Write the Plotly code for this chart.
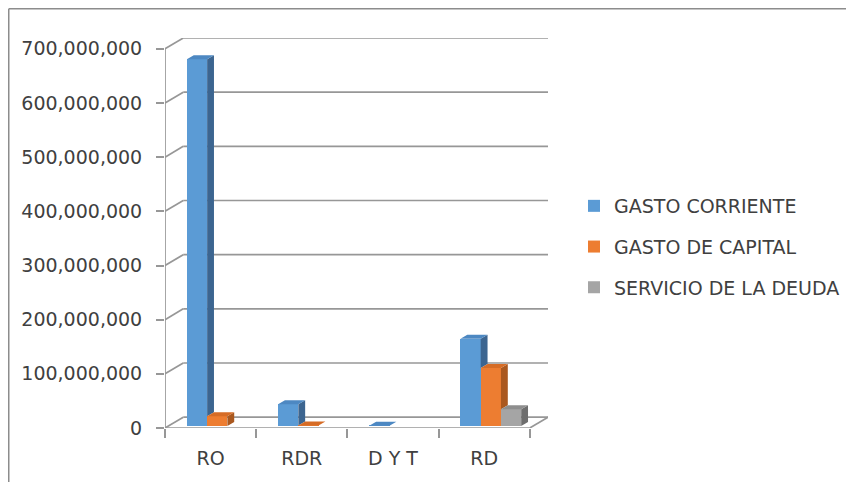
import plotly.graph_objects as go

# datos del grafico
categorias = ['RO', 'RDR', 'D Y T', 'RD']
gasto_corriente = [677000000, 40000000, 500000, 161000000]
gasto_capital = [18000000, 1000000, 0, 107000000]
servicio_deuda = [0, 0, 0, 31000000]
nombres = ['GASTO CORRIENTE', 'GASTO DE CAPITAL', 'SERVICIO DE LA DEUDA']
y_ticks = [0, 100000000, 200000000, 300000000, 400000000, 500000000, 600000000, 700000000]

series = [gasto_corriente, gasto_capital, servicio_deuda]

# colores: frente, arriba, costado
colores = [
    ('#5B9BD5', '#4D88C2', '#3C6590'),
    ('#ED7D31', '#D66C26', '#AA581F'),
    ('#A5A5A5', '#8E8E8E', '#6E6E6E'),
]

# geometria "3D" (profundidad del fondo y de las barras)
DX, DY = 0.2, 20000000          # pared del fondo
FX, FY = 0.03, 3700000          # cara frontal de las barras
SDX, SDY = 0.075, 7500000       # profundidad de cada barra
OFF0, W = -0.29, 0.222          # posicion de la primera barra y ancho
Y_MAX = y_ticks[-1]

fig = go.Figure()
x_idx = list(range(len(categorias)))

# caras frontales como barras
for i, vals in enumerate(series):
    fig.add_trace(go.Bar(
        x=x_idx, y=vals, base=[FY] * len(vals),
        offset=OFF0 + i * W + FX, width=W,
        name=nombres[i], legendgroup=nombres[i],
        marker=dict(color=colores[i][0], line=dict(width=0)),
        hovertemplate='%{y:,.0f}<extra>' + nombres[i] + '</extra>'
    ))

# caras de arriba y costado (poligonos calculados desde los valores)
for i, vals in enumerate(series):
    top_x, top_y, side_x, side_y = [], [], [], []
    for c, v in enumerate(vals):
        if not v:
            continue
        nxt = series[i + 1][c] if i + 1 < len(series) else 0
        x0 = c + OFF0 + i * W + FX
        x1 = x0 + W
        t = FY + v
        if nxt > v:
            top_x += [x0, x0 + SDX, x1, x1, x0, None]
            top_y += [t, t + SDY, t + SDY, t, t, None]
        else:
            top_x += [x0, x0 + SDX, x1 + SDX, x1, x0, None]
            top_y += [t, t + SDY, t + SDY, t, t, None]
            low = FY + nxt
            side_x += [x1, x1 + SDX, x1 + SDX, x1, x1, None]
            side_y += [low, low + SDY, t + SDY, t, low, None]
    for xs, ys, col in ((side_x, side_y, colores[i][2]), (top_x, top_y, colores[i][1])):
        if xs:
            fig.add_trace(go.Scatter(
                x=xs, y=ys, mode='lines', fill='toself', fillcolor=col,
                line=dict(width=0, color=col), showlegend=False,
                legendgroup=nombres[i], hoverinfo='skip'
            ))

# pared del fondo, piso y ejes
gris = '#979797'
shapes = []
for v in y_ticks:
    shapes.append(dict(type='line', xref='x', yref='y', layer='below',
                       x0=-0.5 + DX, x1=len(categorias) - 0.5 + DX, y0=v + DY, y1=v + DY,
                       line=dict(color=gris, width=1.7)))
    shapes.append(dict(type='line', xref='x', yref='y', layer='below',
                       x0=-0.5, x1=-0.5 + DX, y0=v, y1=v + DY,
                       line=dict(color=gris, width=1.7)))
shapes.append(dict(type='line', xref='x', yref='y', x0=-0.5, x1=-0.5, y0=0, y1=Y_MAX,
                   line=dict(color=gris, width=1.7)))
shapes.append(dict(type='line', xref='x', yref='y', x0=-0.5, x1=len(categorias) - 0.5, y0=0, y1=0,
                   line=dict(color=gris, width=1.7)))
shapes.append(dict(type='line', xref='x', yref='y', layer='below',
                   x0=len(categorias) - 0.5, x1=len(categorias) - 0.5 + DX, y0=0, y1=DY,
                   line=dict(color=gris, width=1.7)))

# la pagina tiene 8px de margen: medidas en pixeles de pagina -> figura
OFS = 8
FW, FH = 854 - 2 * OFS, 490 - 2 * OFS
ML, MT = 165 - OFS, 38 - OFS
MR, MB = FW - (548 - OFS), FH - (428 - OFS)
AW, AH = FW - ML - MR, FH - MT - MB
def px_x(p):
    return (p - OFS - ML) / AW
def px_y(p):
    return (FH - MB - (p - OFS)) / AH

# borde del grafico
shapes.append(dict(type='line', xref='paper', yref='paper', x0=px_x(OFS + 0.75), x1=px_x(OFS + 0.75),
                   y0=px_y(490), y1=px_y(OFS + 0.75), line=dict(color='#8C8C8C', width=1.5)))
shapes.append(dict(type='line', xref='paper', yref='paper', x0=px_x(OFS + 0.75), x1=px_x(854),
                   y0=px_y(OFS + 0.75), y1=px_y(OFS + 0.75), line=dict(color='#8C8C8C', width=1.5)))

fuente = dict(family='DejaVu Sans', size=19, color='#404040')

fig.update_layout(
    width=FW, height=FH,
    margin=dict(l=ML, r=MR, t=MT, b=MB, autoexpand=False),
    plot_bgcolor='white', paper_bgcolor='white',
    font=fuente,
    shapes=shapes,
    bargap=0,
    showlegend=True,
    legend=dict(x=px_x(574), y=px_y(247), xanchor='left', yanchor='middle',
                font=fuente, tracegroupgap=13, traceorder='grouped',
                bgcolor='rgba(0,0,0,0)'),
    xaxis=dict(range=[-0.5, len(categorias) - 0.5 + DX], tickvals=x_idx, ticktext=categorias,
               showgrid=False, zeroline=False, showline=False, ticks='',
               ticklabelstandoff=17, automargin=False,
               minor=dict(ticks='outside', tick0=-0.5, dtick=1, ticklen=9,
                          tickcolor=gris, tickwidth=1.7, showgrid=False)),
    yaxis=dict(range=[0, Y_MAX + DY], tickvals=y_ticks, tickformat=',d',
               showgrid=False, zeroline=False, showline=False,
               ticks='outside', ticklen=8, tickcolor=gris, tickwidth=1.7,
               ticklabelstandoff=10, automargin=False),
)

fig.write_html('out.html')
